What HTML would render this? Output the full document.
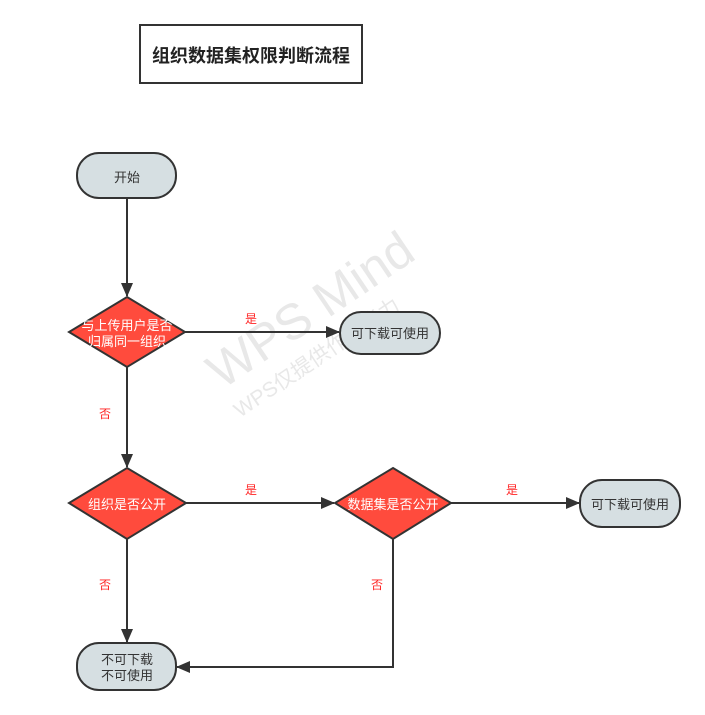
<!DOCTYPE html>
<html><head><meta charset="utf-8"><style>
html,body{margin:0;padding:0;background:#fff;width:705px;height:715px;overflow:hidden}
svg{display:block}
text{font-family:"Liberation Sans","Noto Sans CJK SC",sans-serif}
</style></head><body>
<svg width="705" height="715" viewBox="0 0 705 715" xmlns="http://www.w3.org/2000/svg">
<defs>
<marker id="a" markerWidth="14" markerHeight="12" refX="13" refY="6" orient="auto" markerUnits="userSpaceOnUse" viewBox="0 0 14 12">
<path d="M0,0 L14,6 L0,12 z" fill="#333"/>
</marker>
</defs>
<g fill="#e6e6e6" opacity="0.9">
<text x="0" y="0" font-size="50" transform="translate(222,390) rotate(-34)">WPS Mind</text>
<text x="0" y="0" font-size="21" transform="translate(240,418) rotate(-34)">WPS仅提供作图能力</text>
</g>
<rect x="140" y="25" width="222" height="58" fill="#fff" stroke="#333" stroke-width="2"/>
<text x="251" y="62" font-size="18" font-weight="bold" text-anchor="middle" fill="#222">组织数据集权限判断流程</text>

<g stroke="#333" stroke-width="2" fill="none">
<line x1="127" y1="198" x2="127" y2="296" marker-end="url(#a)"/>
<line x1="185" y1="332" x2="339" y2="332" marker-end="url(#a)"/>
<line x1="127" y1="367" x2="127" y2="467" marker-end="url(#a)"/>
<line x1="186" y1="503" x2="334" y2="503" marker-end="url(#a)"/>
<line x1="451" y1="503" x2="579" y2="503" marker-end="url(#a)"/>
<line x1="127" y1="539" x2="127" y2="642" marker-end="url(#a)"/>
<polyline points="393,539 393,667 177,667" marker-end="url(#a)"/>
</g>

<g fill="#d6dfe2" stroke="#333" stroke-width="2">
<rect x="77" y="153" width="99" height="45" rx="22"/>
<rect x="340" y="312" width="100" height="42" rx="21"/>
<rect x="580" y="480" width="100" height="47" rx="22"/>
<rect x="77" y="643" width="99" height="47" rx="22"/>
</g>
<g fill="#ff4b3d" stroke="#333" stroke-width="2">
<polygon points="127,297 185,332 127,367 69,332"/>
<polygon points="127,468 186,503 127,539 69,503"/>
<polygon points="393,468 451,503 393,539 335,503"/>
</g>

<g font-size="13" fill="#333" text-anchor="middle">
<text x="127" y="182">开始</text>
<text x="390" y="338">可下载可使用</text>
<text x="630" y="509">可下载可使用</text>
<text x="127" y="664">不可下载</text>
<text x="127" y="680">不可使用</text>
</g>
<g font-size="13" fill="#fff" text-anchor="middle">
<text x="127" y="330">与上传用户是否</text>
<text x="127" y="346">归属同一组织</text>
<text x="127" y="509">组织是否公开</text>
<text x="393" y="509">数据集是否公开</text>
</g>
<g font-size="12" fill="#f22" text-anchor="middle">
<text x="251" y="323">是</text>
<text x="105" y="418">否</text>
<text x="251" y="494">是</text>
<text x="512" y="494">是</text>
<text x="105" y="589">否</text>
<text x="377" y="589">否</text>
</g>
</svg>
</body></html>
